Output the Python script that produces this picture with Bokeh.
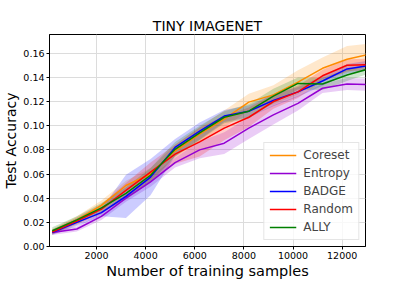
from bokeh.plotting import figure
from bokeh.models import Legend, LegendItem, FixedTicker, NumeralTickFormatter, Range1d
from bokeh.embed import file_html
from bokeh.resources import INLINE

samples = [200, 1200, 2200, 3200, 4200, 5200, 6200, 7200, 8200, 9200, 10200, 11200, 12200, 13000]

coreset = [0.0125, 0.022, 0.034, 0.0505, 0.060, 0.079, 0.093, 0.1055, 0.1195, 0.1255, 0.136, 0.1475, 0.155, 0.1587]
coreset_sd = [0.002, 0.003, 0.004, 0.004, 0.005, 0.005, 0.006, 0.007, 0.007, 0.008, 0.010, 0.009, 0.011, 0.009]

entropy = [0.0115, 0.0145, 0.025, 0.040, 0.0535, 0.0695, 0.080, 0.0855, 0.098, 0.109, 0.1185, 0.131, 0.1345, 0.134]
entropy_sd = [0.002, 0.002, 0.003, 0.003, 0.004, 0.004, 0.007, 0.009, 0.009, 0.008, 0.006, 0.004, 0.005, 0.005]

badge = [0.0115, 0.020, 0.028, 0.0415, 0.0575, 0.082, 0.0956, 0.108, 0.112, 0.121, 0.128, 0.137, 0.147, 0.1496]
badge_sd = [0.002, 0.003, 0.003, 0.018, 0.015, 0.007, 0.007, 0.005, 0.005, 0.005, 0.004, 0.004, 0.004, 0.004]

random_ = [0.012, 0.021, 0.031, 0.0465, 0.0615, 0.0765, 0.0866, 0.098, 0.107, 0.120, 0.128, 0.1413, 0.150, 0.1505]
random_sd = [0.002, 0.003, 0.004, 0.006, 0.008, 0.008, 0.012, 0.010, 0.008, 0.006, 0.005, 0.005, 0.005, 0.005]

ally = [0.013, 0.022, 0.032, 0.044, 0.059, 0.0805, 0.094, 0.107, 0.112, 0.1245, 0.135, 0.1345, 0.142, 0.1466]
ally_sd = [0.003, 0.003, 0.004, 0.005, 0.006, 0.006, 0.006, 0.005, 0.006, 0.006, 0.005, 0.005, 0.005, 0.004]

x_ticks = [2000, 4000, 6000, 8000, 10000, 12000]
y_ticks = [0.0, 0.02, 0.04, 0.06, 0.08, 0.10, 0.12, 0.14, 0.16]

series = [
    ("Coreset", coreset, coreset_sd, "darkorange"),
    ("Entropy", entropy, entropy_sd, "darkviolet"),
    ("BADGE", badge, badge_sd, "blue"),
    ("Random", random_, random_sd, "red"),
    ("ALLY", ally, ally_sd, "green"),
]

FONT = "DejaVu Sans"

p = figure(frame_width=316, frame_height=212, output_backend="svg", toolbar_location=None,
           x_range=Range1d(87, 12950), y_range=Range1d(0, 0.1755),
           min_border_left=42, min_border_right=33, min_border_top=34, min_border_bottom=22,
           title="TINY IMAGENET")

p.title.align = "center"
p.title.text_font = FONT
p.title.text_font_size = "14px"
p.title.text_font_style = "normal"
p.title.text_color = "black"
p.title.standoff = 2

items = []
for name, vals, sd, col in series:
    lo = [v - s for v, s in zip(vals, sd)]
    hi = [v + s for v, s in zip(vals, sd)]
    p.varea(x=samples, y1=lo, y2=hi, fill_color=col, fill_alpha=0.2)
for name, vals, sd, col in series:
    r = p.line(samples, vals, line_color=col, line_width=1.5)
    items.append(LegendItem(label=name, renderers=[r]))

legend = Legend(items=items, location="bottom_right")
legend.label_text_font = FONT
legend.label_text_font_size = "12px"
legend.glyph_width = 27
legend.glyph_height = 14
legend.label_height = 14
legend.spacing = 4
legend.padding = 5
legend.label_standoff = 7
legend.margin = 6
legend.border_line_color = "#cccccc"
legend.background_fill_alpha = 0.8
p.add_layout(legend)

p.xaxis.ticker = FixedTicker(ticks=x_ticks)
p.yaxis.ticker = FixedTicker(ticks=y_ticks)
p.yaxis.formatter = NumeralTickFormatter(format="0.00")
p.xaxis.formatter = NumeralTickFormatter(format="0")

p.xaxis.axis_label = "Number of training samples"
p.yaxis.axis_label = "Test Accuracy"
for ax in (p.xaxis, p.yaxis):
    ax.axis_label_text_font = FONT
    ax.axis_label_text_font_style = "normal"
    ax.axis_label_text_color = "black"
    ax.major_label_text_font = FONT
    ax.major_label_text_font_size = "9.5px"
    ax.major_label_text_color = "black"
    ax.major_tick_in = 0
    ax.major_tick_out = 3
    ax.minor_tick_in = 0
    ax.minor_tick_out = 0
    ax.major_tick_line_color = "black"
    ax.axis_line_color = "black"
    ax.major_label_standoff = 2
    ax.axis_label_standoff = 1
p.xaxis.axis_label_text_font_size = "14.5px"
p.yaxis.axis_label_text_font_size = "14px"

p.grid.grid_line_color = "#dcdcdc"
p.grid.grid_line_width = 1
p.outline_line_color = "black"
p.outline_line_width = 1
p.outline_line_alpha = 1
p.background_fill_color = "white"
p.border_fill_color = "white"

open("out.html", "w").write(file_html(p, INLINE))
